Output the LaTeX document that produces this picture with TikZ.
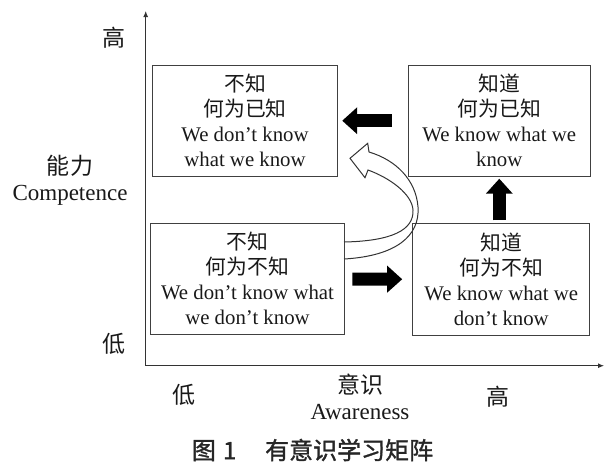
\documentclass[tikz,border=0pt]{standalone}
\usepackage{fontspec}
\setmainfont{Liberation Serif}
\newfontfamily\cjk{Noto Sans CJK SC}
\newfontfamily\capfont[FakeBold=1.3]{Noto Sans CJK SC}
\usetikzlibrary{arrows.meta}
\tikzset{
  quad/.style={draw=black!75, line width=0.5pt, minimum height=55.5pt, inner sep=0pt,
    align=center, text=black!90, font=\fontsize{10.4}{12.5}\selectfont},
  axis/.style={line width=0.5pt, draw=black!80, -{Latex[length=3pt,width=2.5pt]}},
  block/.style={line width=6.5pt, -{Triangle[length=7.5pt,width=13pt]}},
  lbl/.style={font=\fontsize{11.5}{13}\selectfont, align=center, inner sep=0pt, text=black!90}
}
\begin{document}
\begin{tikzpicture}[x=0.5pt,y=-0.5pt]
  \useasboundingbox (0,0) rectangle (609,473);
  % axes
  \coordinate (o) at (145.7,365.7);
  \coordinate (ytop) at (145.7,11);
  \coordinate (xend) at (604,365.7);
  \draw[axis] (o) -- (ytop);
  \draw[axis] (o) -- (xend);
  \node[lbl] (yhi) at (114,38) {\cjk 高};
  \node[lbl] (ylab) at (70,180) {{\cjk 能力}\\Competence};
  \node[lbl] (ylo) at (114,344) {\cjk 低};
  \node[lbl] (xlo) at (184,395) {\cjk 低};
  \node[lbl] (xlab) at (360,396.5) {{\cjk 意识}\\Awareness};
  \node[lbl] (xhi) at (498,397) {\cjk 高};
  % quadrants
  \node[quad, minimum width=92.3pt] (tl) at (245,120.7)
    {{\cjk 不知}\\{\cjk 何为已知}\\We don’t know\\what we know};
  \node[quad, minimum width=90.8pt] (tr) at (499.2,120.7)
    {{\cjk 知道}\\{\cjk 何为已知}\\We know what we\\know};
  \node[quad, minimum width=96.8pt] (bl) at (247.5,278.8)
    {{\cjk 不知}\\{\cjk 何为不知}\\We don’t know what\\we don’t know};
  \node[quad, minimum width=88.6pt, minimum height=56.2pt] (br) at (501.3,279.5)
    {{\cjk 知道}\\{\cjk 何为不知}\\We know what we\\don’t know};
  % block arrows
  \draw[block, shorten <=8pt, shorten >=2.2pt] (tr) -- (tl);
  \draw[block, shorten <=3.8pt, shorten >=5pt] (bl) -- (br);
  \draw[block, shorten <=1.2pt, shorten >=1pt] ([xshift=-1pt]br.north) -- ([xshift=-1pt]br.north |- tr.south);
  % hollow curved arrow
  \draw[line width=0.5pt, draw=black!80]
    (344,259) .. controls (396,256) and (420,236) .. (418,207)
    .. controls (416,180) and (396,160) .. (369,152)
    -- (367.7,143.3) -- (350,158.3) -- (365,177.7) -- (368,170)
    .. controls (390,178) and (412,194) .. (413,210)
    .. controls (414,230) and (392,241) .. (344,242);
  % caption
  \node[font=\capfont\fontsize{12}{14}\selectfont, text=black!85] (cap) at (312.5,450)
    {图\hspace{0.3em}1\hspace{1.2em}有意识学习矩阵};
\end{tikzpicture}
\end{document}
